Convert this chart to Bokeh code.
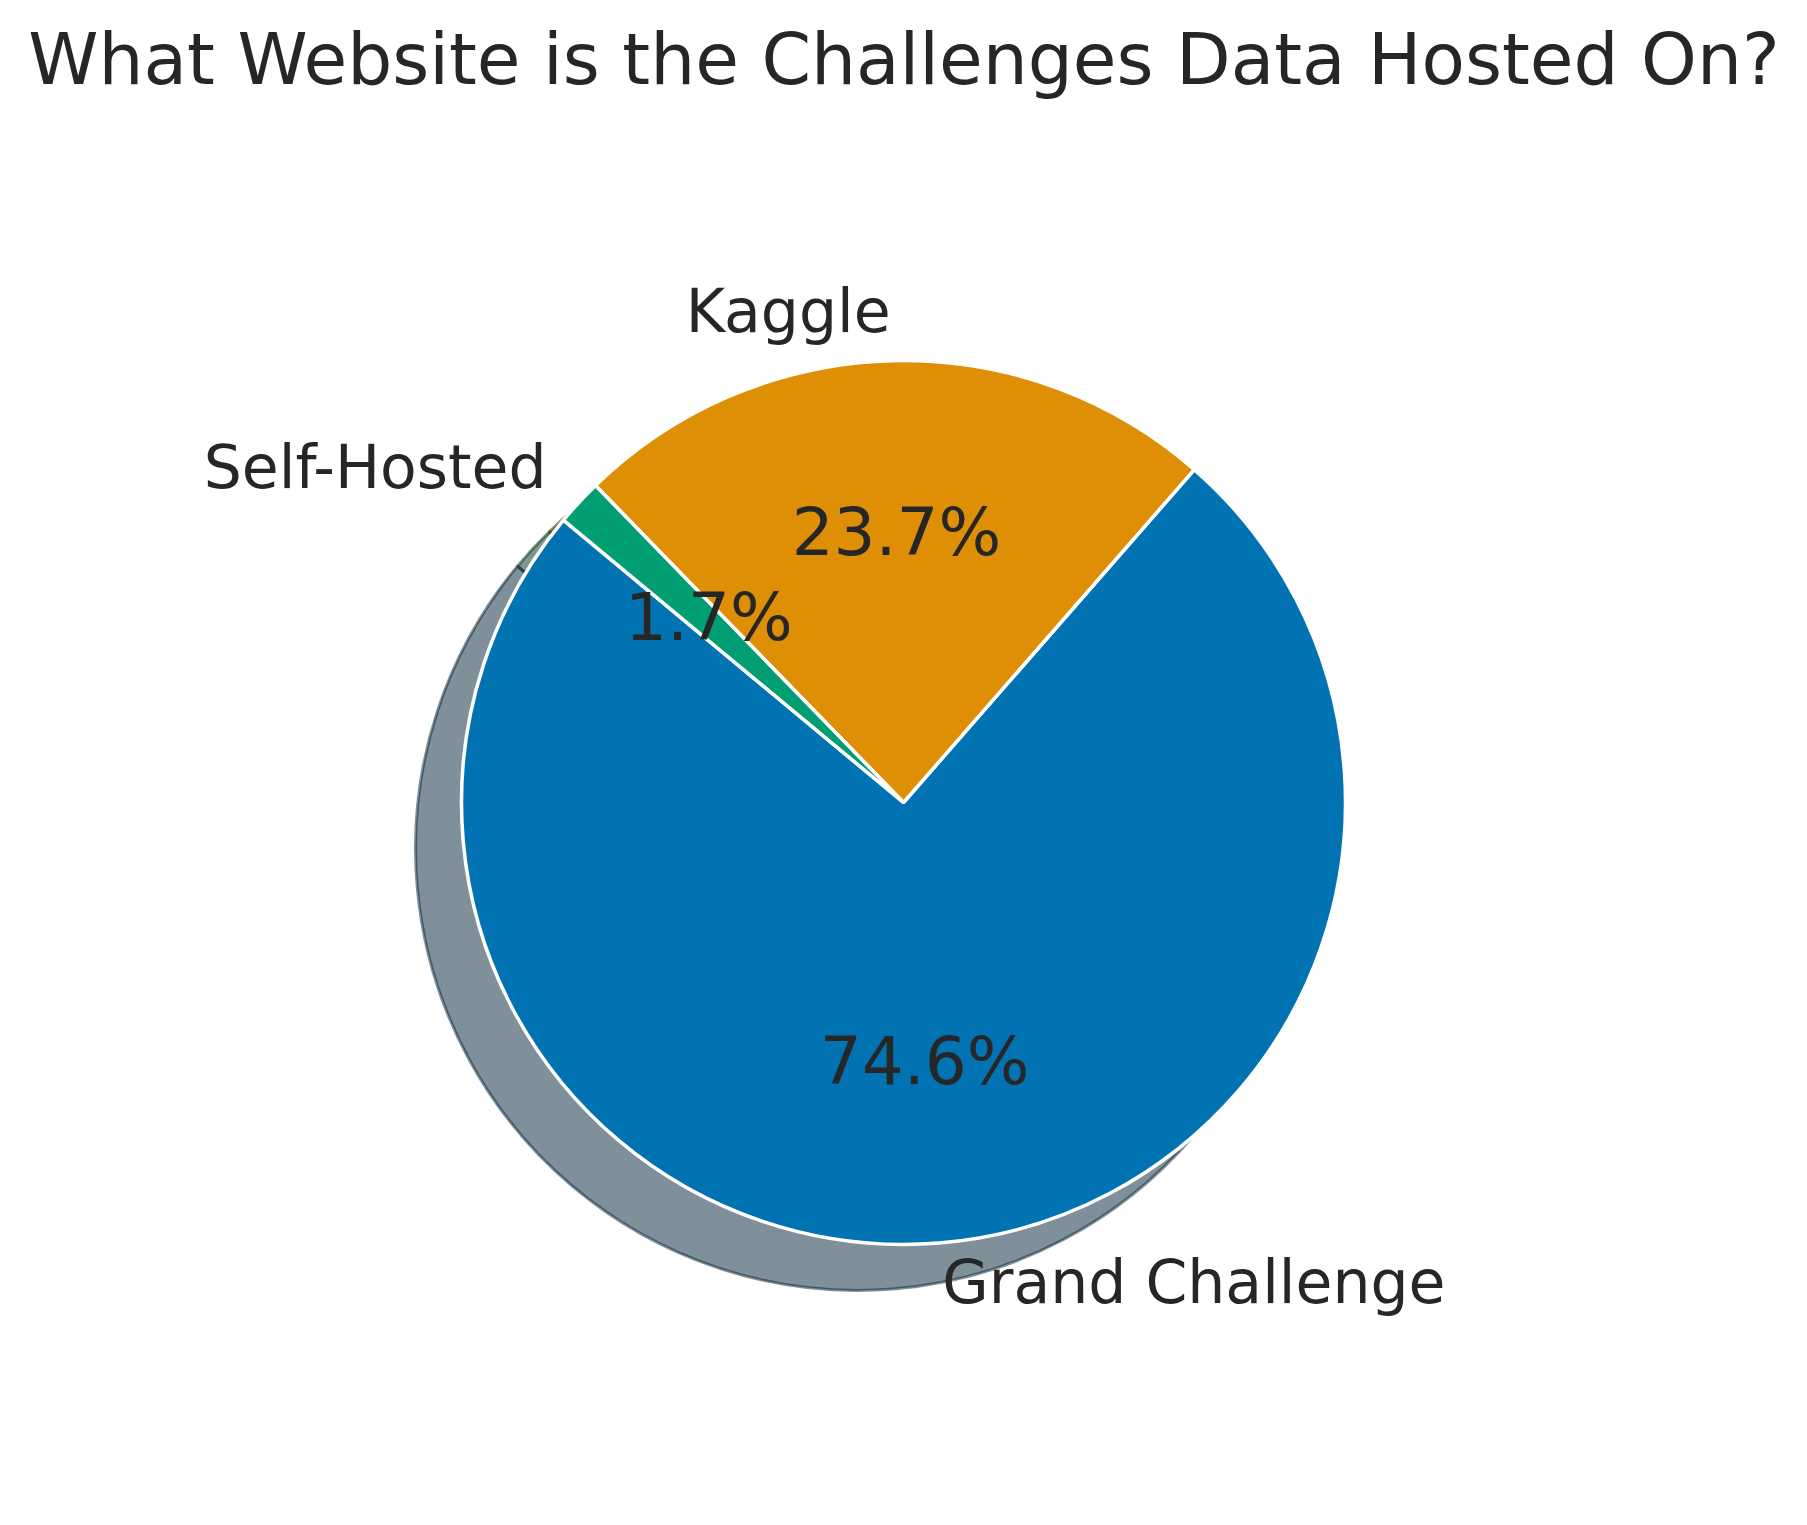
import math
from bokeh.plotting import figure
from bokeh.models import Range1d
from bokeh.core.properties import value
from bokeh.embed import file_html
from bokeh.resources import INLINE

# ---- data ----
categories = ["Grand Challenge", "Kaggle", "Self-Hosted"]
shares = [74.6, 23.7, 1.7]
colors = ["#0173b2", "#de8f05", "#029e73"]
title_text = "What Website is the Challenges Data Hosted On?"

# ---- layout constants ----
W, H = 1807, 1525
CX, CY, R = 903, 802, 442          # pie centre and radius in pixels
START_DEG = 140.3
SHADOW_OFF = 0.104
TEXT_COLOR = "#262626"
FONT = "DejaVu Sans"

p = figure(width=W, height=H, output_backend="svg", toolbar_location=None,
           x_range=Range1d(-CX / R, (W - CX) / R),
           y_range=Range1d(-(H - CY) / R, CY / R),
           min_border=0, outline_line_color=None,
           background_fill_color="white", border_fill_color="white")
p.axis.visible = False
p.grid.visible = False

total = sum(shares)
starts, ends = [], []
a = math.radians(START_DEG)
for v in shares:
    starts.append(a)
    a += 2 * math.pi * v / total
    ends.append(a)

def shade(hexcol):
    h = hexcol.lstrip("#")
    r, g, b = (int(h[i:i + 2], 16) for i in (0, 2, 4))
    return "#%02x%02x%02x" % (int(0.3 * r), int(0.3 * g), int(0.3 * b))

shadow_cols = [shade(c) for c in colors]

# shadows (beneath all wedges)
p.wedge(x=[-SHADOW_OFF] * 3, y=[-SHADOW_OFF] * 3, radius=1.0,
        start_angle=starts, end_angle=ends, direction="anticlock",
        fill_color=shadow_cols, fill_alpha=0.5,
        line_color=shadow_cols, line_alpha=0.5, line_width=3)

# wedges
p.wedge(x=[0] * 3, y=[0] * 3, radius=1.0,
        start_angle=starts, end_angle=ends, direction="anticlock",
        fill_color=colors, line_color="white", line_width=3.5)

# labels
mids = [(s + e) / 2 for s, e in zip(starts, ends)]
lx = [1.1 * math.cos(m) for m in mids]
ly = [1.1 * math.sin(m) for m in mids]
align = ["left" if x > 0 else "right" for x in lx]
p.text(x=lx, y=ly, text=categories, text_align=align, text_baseline="middle",
       y_offset=-5,
       text_font=value(FONT), text_font_size="60px", text_color=TEXT_COLOR)

# percentages
px = [0.6 * math.cos(m) for m in mids]
py = [0.6 * math.sin(m) for m in mids]
pct = ["%.1f%%" % (100 * v / total) for v in shares]
p.text(x=px, y=py, text=pct, text_align="center", text_baseline="middle",
       y_offset=-5,
       text_font=value(FONT), text_font_size="66px", text_color=TEXT_COLOR)

# title
p.text(x=[(W / 2 - CX) / R], y=[(CY - 59) / R], text=[title_text],
       text_align="center", text_baseline="alphabetic",
       text_font=value(FONT), text_font_size="71px", text_color=TEXT_COLOR)

open("out.html", "w").write(file_html(p, INLINE))
